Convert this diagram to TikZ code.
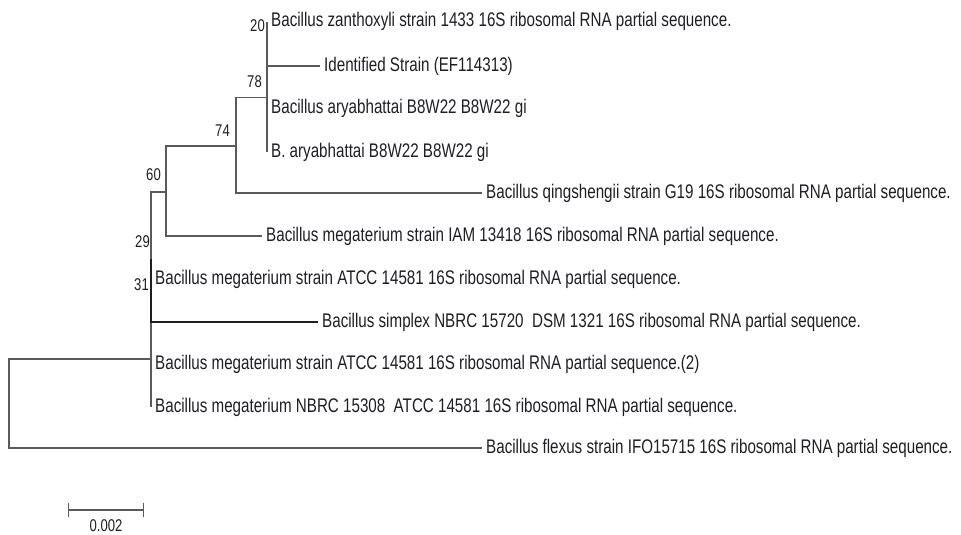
\documentclass[tikz,border=0pt]{standalone}
\usepackage{fontspec}
\setmainfont{Liberation Sans}[FakeStretch=0.77]
\usepackage{tikz}
\usetikzlibrary{arrows.meta,positioning}
\definecolor{BranchGrey}{RGB}{90,90,90}
\definecolor{DarkBranch}{RGB}{30,30,30}
\definecolor{LabelInk}  {RGB}{30,30,36}
\newcommand\leaffont{\fontsize{19.7}{23}\selectfont}
\newcommand\bootfont{\fontsize{17}{20}\selectfont}
\tikzset{
  branch/.style={draw=BranchGrey, line width=1.3pt},
  dupbranch/.style={draw=DarkBranch, line width=1.6pt},
  leaf/.style={anchor=base west, inner sep=0pt,
               xshift=4pt, yshift=-5pt,
               text=LabelInk, font=\leaffont},
  boot/.style={inner sep=0pt, text=LabelInk, font=\bootfont},
  scalebar/.style={draw=BranchGrey, line width=1.3pt,
                   {Bar[width=14pt]}-{Bar[width=14pt]}}
}

\begin{document}
\begin{tikzpicture}[x=1pt, y=-1pt]
  \useasboundingbox (0,0) rectangle (961,535);

  % internal nodes
  \coordinate (r)   at (9,403.5);
  \coordinate (ing) at (151,359);
  \coordinate (n29) at (151,259);
  \coordinate (n31) at (151,300.5);
  \coordinate (n60) at (166,192);
  \coordinate (n74) at (236,146);
  \coordinate (n78) at (267,97.5);
  \coordinate (n20) at (267,43);

  % branch tips
  \coordinate (tZan)   at (267,22);
  \coordinate (tIdent) at (320,66);
  \coordinate (tAry)   at (267,108);
  \coordinate (tBAry)  at (267,152);
  \coordinate (tQing)  at (482,193);
  \coordinate (tIam)   at (262,236);
  \coordinate (tAtcc)  at (151,279);
  \coordinate (tSimp)  at (318,322);
  \coordinate (tAtccB) at (151,364);
  \coordinate (tNbrc)  at (151,407);
  \coordinate (tFlex)  at (482,448);

  % branches
  \draw[branch] (ing) -| (r) |- (tFlex);
  \draw[branch] (ing) -- (n29)  (ing) -- (tNbrc);
  \draw[branch] (n29) |- (n60);
  \draw[dupbranch] (n29) -- (n31) |- (tSimp);
  \draw[branch] (n60) |- (n74)  (n60) |- (tIam);
  \draw[branch] (n74) |- (n78)  (n74) |- (tQing);
  \draw[branch] (n78) -- (n20)  (n78) -- (tBAry);
  \draw[branch] (n20) -- (tZan) (n20) |- (tIdent);

  % taxa
  \node[leaf] (zanthoxyli) at (tZan)   {Bacillus zanthoxyli strain 1433 16S ribosomal RNA partial sequence.};
  \node[leaf] (ident)      at (tIdent) {Identified Strain (EF114313)};
  \node[leaf] (aryab)      at (tAry)   {Bacillus aryabhattai B8W22 B8W22 gi};
  \node[leaf] (baryab)     at (tBAry)  {B. aryabhattai B8W22 B8W22 gi};
  \node[leaf] (qingsh)     at (tQing)  {Bacillus qingshengii strain G19 16S ribosomal RNA partial sequence.};
  \node[leaf] (megIam)     at (tIam)   {Bacillus megaterium strain IAM 13418 16S ribosomal RNA partial sequence.};
  \node[leaf] (megAtcc)    at (tAtcc)  {Bacillus megaterium strain ATCC 14581 16S ribosomal RNA partial sequence.};
  \node[leaf] (simplex)    at (tSimp)  {Bacillus simplex NBRC 15720\ \ DSM 1321 16S ribosomal RNA partial sequence.};
  \node[leaf] (megAtccB)   at (tAtccB) {Bacillus megaterium strain ATCC 14581 16S ribosomal RNA partial sequence.(2)};
  \node[leaf] (megNbrc)    at (tNbrc)  {Bacillus megaterium NBRC 15308\ \ ATCC 14581 16S ribosomal RNA partial sequence.};
  \node[leaf] (flexus)     at (tFlex)  {Bacillus flexus strain IFO15715 16S ribosomal RNA partial sequence.};

  % bootstrap values
  \node[boot, above left=11pt and 2pt of n20]  (b20) {20};
  \node[boot, above left=10pt and 5pt of n78]  (b78) {78};
  \node[boot, above left=9pt and 6pt of n74]   (b74) {74};
  \node[boot, above left=11pt and 5pt of n60]  (b60) {60};
  \node[boot, above left=11pt and 1pt of n29]  (b29) {29};
  \node[boot, above left=10pt and 2pt of n31]  (b31) {31};

  % scale
  \coordinate (sL) at (68,510);
  \coordinate (sR) at (144,510);
  \draw[scalebar] (sL) -- node[boot, below=9pt] (sbLabel) {0.002} (sR);
\end{tikzpicture}
\end{document}
